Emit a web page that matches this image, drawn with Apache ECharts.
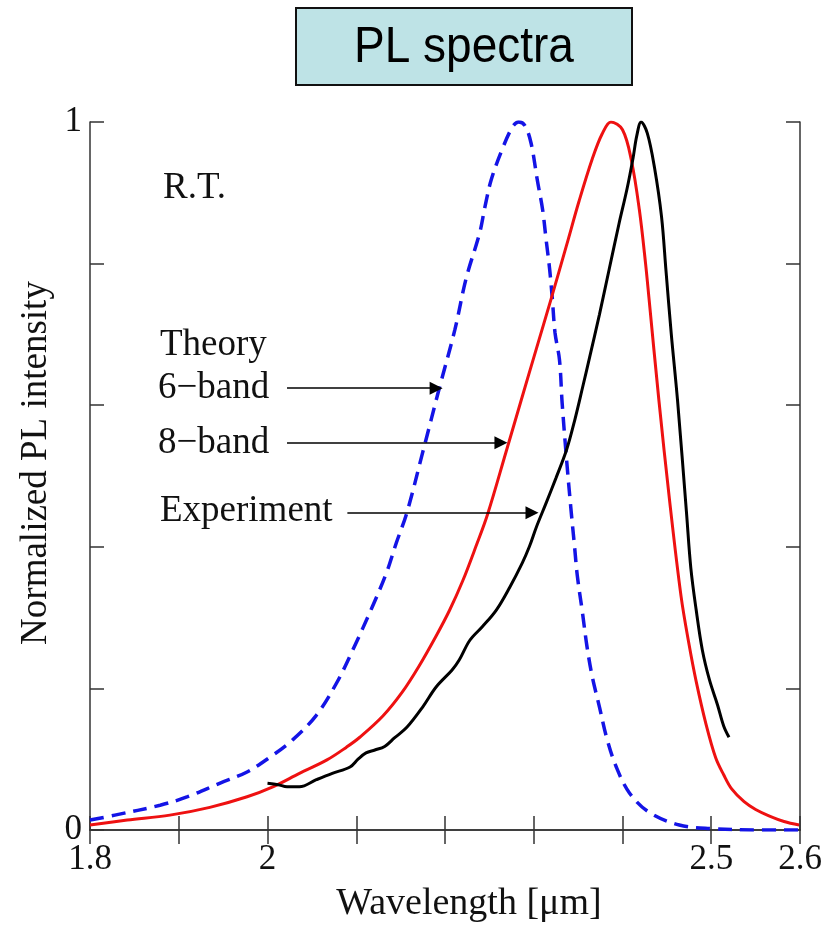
<!DOCTYPE html>
<html>
<head>
<meta charset="utf-8">
<script src="https://cdn.jsdelivr.net/npm/echarts@6/dist/echarts.min.js"></script>
<style>
html,body{margin:0;padding:0;background:#fff;}
#chart{width:837px;height:926px;}
</style>
</head>
<body>
<div id="chart"></div>
<script>
// ---- data ----
const sixBandWl = [1.800,1.828,1.879,1.910,1.946,1.977,2.003,2.028,2.055,2.078,2.096,2.118,2.134,2.145,2.157,2.175,2.194,2.211,2.224,2.239,2.245,2.252,2.264,2.276,2.283,2.290,2.297,2.304,2.310,2.314,2.318,2.321,2.324,2.329,2.332,2.337,2.342,2.346,2.349,2.355,2.360,2.366,2.374,2.382,2.393,2.408,2.430,2.464,2.501,2.550,2.600];
const sixBandI  = [0.014,0.021,0.035,0.047,0.066,0.082,0.103,0.127,0.162,0.208,0.254,0.315,0.363,0.405,0.448,0.534,0.626,0.706,0.780,0.843,0.880,0.918,0.960,0.993,1.000,0.995,0.970,0.918,0.876,0.833,0.791,0.749,0.702,0.664,0.603,0.523,0.452,0.400,0.360,0.306,0.259,0.216,0.174,0.131,0.089,0.052,0.025,0.007,0.002,0.000,0.000];

const eightBandWl = [1.800,1.842,1.890,1.935,1.977,2.006,2.036,2.067,2.089,2.104,2.130,2.152,2.171,2.190,2.205,2.220,2.235,2.248,2.269,2.287,2.303,2.320,2.337,2.351,2.366,2.377,2.387,2.400,2.410,2.419,2.426,2.430,2.441,2.453,2.466,2.475,2.483,2.494,2.505,2.514,2.523,2.537,2.550,2.565,2.582,2.599];
const eightBandI  = [0.007,0.014,0.021,0.032,0.047,0.061,0.080,0.099,0.117,0.131,0.161,0.195,0.232,0.274,0.310,0.352,0.401,0.446,0.535,0.612,0.680,0.752,0.826,0.888,0.948,0.983,1.000,0.989,0.946,0.876,0.800,0.749,0.607,0.466,0.330,0.262,0.210,0.150,0.102,0.078,0.058,0.040,0.029,0.020,0.012,0.007];

const expWl = [2.000,2.012,2.022,2.036,2.055,2.073,2.093,2.102,2.111,2.121,2.132,2.143,2.157,2.175,2.190,2.208,2.216,2.228,2.242,2.258,2.273,2.287,2.295,2.303,2.314,2.325,2.337,2.346,2.355,2.363,2.374,2.385,2.396,2.405,2.412,2.416,2.421,2.428,2.436,2.444,2.449,2.455,2.462,2.472,2.477,2.483,2.490,2.498,2.507,2.514,2.520];
const expI  = [0.066,0.064,0.061,0.061,0.071,0.080,0.089,0.100,0.109,0.113,0.118,0.130,0.145,0.174,0.202,0.226,0.240,0.268,0.287,0.311,0.343,0.377,0.400,0.428,0.462,0.497,0.537,0.578,0.625,0.668,0.728,0.792,0.856,0.905,0.950,0.980,1.000,0.984,0.936,0.866,0.790,0.700,0.607,0.450,0.370,0.311,0.254,0.212,0.177,0.147,0.131];

const xTickLabels = [1.8, 2, 2.5, 2.6];
const yTickLabels = [0, 1];

// annotation arrows (wavelength start/end, intensity level)
const arrowStarts = [2.022, 2.022, 2.090];
const arrowEnds   = [2.190, 2.263, 2.298];
const arrowLevels = [0.624, 0.547, 0.448];

const zip = (a, b) => a.map((v, i) => [v, b[i]]);
const serif = '"Liberation Serif", "DejaVu Serif", serif';

const chart = echarts.init(document.getElementById('chart'), null, {renderer: 'canvas'});

const axisLineStyle = {show: true, lineStyle: {color: '#333', width: 1.5}};
const tickStyle = {show: true, inside: true, length: 14, lineStyle: {color: '#333', width: 1.5}};

const isLabelled = (arr, v) => arr.some(t => Math.abs(t - v) < 1e-6);

const option = {
  animation: false,
  backgroundColor: '#fff',
  grid: {left: 90, right: 37, top: 122, bottom: 96, containLabel: false},
  xAxis: [
    {
      type: 'value', min: 1.8, max: 2.6, interval: 0.1, position: 'bottom',
      axisLine: axisLineStyle, axisTick: tickStyle, splitLine: {show: false},
      axisLabel: {
        show: true, margin: 12, fontFamily: serif, fontSize: 35, color: '#111',
        showMinLabel: true, showMaxLabel: true, hideOverlap: false,
        formatter: v => isLabelled(xTickLabels, v) ? String(+v.toFixed(1)) : ''
      }
    },
    {
      type: 'value', min: 1.8, max: 2.6, interval: 0.1, position: 'top',
      axisLine: axisLineStyle, axisTick: tickStyle, splitLine: {show: false},
      axisLabel: {show: false}
    }
  ],
  yAxis: [
    {
      type: 'value', min: 0, max: 1, interval: 0.2, position: 'left',
      axisLine: axisLineStyle, axisTick: tickStyle, splitLine: {show: false},
      axisLabel: {
        show: true, margin: 8, fontFamily: serif, fontSize: 35, color: '#111',
        showMinLabel: true, showMaxLabel: true,
        formatter: v => isLabelled(yTickLabels, v) ? String(Math.round(v)) : ''
      }
    },
    {
      type: 'value', min: 0, max: 1, interval: 0.2, position: 'right',
      axisLine: axisLineStyle, axisTick: tickStyle, splitLine: {show: false},
      axisLabel: {show: false}
    }
  ],
  series: [
    {
      name: '6-band', type: 'line', data: zip(sixBandWl, sixBandI),
      showSymbol: false, smooth: 0.35, clip: true,
      lineStyle: {color: '#1414e6', width: 3.5, type: [14, 8]}
    },
    {
      name: '8-band', type: 'line', data: zip(eightBandWl, eightBandI),
      showSymbol: false, smooth: 0.35, clip: true,
      lineStyle: {color: '#ee1111', width: 3}
    },
    {
      name: 'Experiment', type: 'line', data: zip(expWl, expI),
      showSymbol: false, smooth: 0.35, clip: true,
      lineStyle: {color: '#000', width: 3},
      markLine: {
        silent: true, animation: false,
        symbol: ['none', 'triangle'], symbolSize: 13,
        label: {show: false},
        lineStyle: {color: '#000', width: 1.5, type: 'solid'},
        emphasis: {disabled: true},
        data: arrowStarts.map((s, i) => [
          {coord: [s, arrowLevels[i]]},
          {coord: [arrowEnds[i], arrowLevels[i]]}
        ])
      }
    }
  ],
  graphic: [
    {type: 'rect', shape: {x: 296, y: 8, width: 336, height: 77},
     style: {fill: '#bee3e6', stroke: '#111', lineWidth: 2}},
    {type: 'text', x: 464, y: 48, scaleY: 1.1,
     style: {text: 'PL spectra', fontFamily: '"Liberation Sans", Arial, sans-serif', fontSize: 46,
             fill: '#000', align: 'center', verticalAlign: 'middle'}},
    {type: 'text', x: 163, y: 188,
     style: {text: 'R.T.', fontFamily: serif, fontSize: 37, fill: '#111', align: 'left', verticalAlign: 'middle'}},
    {type: 'text', x: 160, y: 345,
     style: {text: 'Theory', fontFamily: serif, fontSize: 37, fill: '#111', align: 'left', verticalAlign: 'middle'}},
    {type: 'text', x: 158, y: 388,
     style: {text: '6\u2212band', fontFamily: serif, fontSize: 37, fill: '#111', align: 'left', verticalAlign: 'middle'}},
    {type: 'text', x: 158, y: 443,
     style: {text: '8\u2212band', fontFamily: serif, fontSize: 37, fill: '#111', align: 'left', verticalAlign: 'middle'}},
    {type: 'text', x: 160, y: 511,
     style: {text: 'Experiment', fontFamily: serif, fontSize: 37, fill: '#111', align: 'left', verticalAlign: 'middle'}},
    {type: 'text', x: 469, y: 904,
     style: {text: 'Wavelength [\u03bcm]', fontFamily: serif, fontSize: 38, fill: '#111', align: 'center', verticalAlign: 'middle'}},
    {type: 'text', x: 36, y: 463, rotation: Math.PI / 2,
     style: {text: 'Normalized PL intensity', fontFamily: serif, fontSize: 37, fill: '#111', align: 'center', verticalAlign: 'middle'}}
  ]
};

chart.setOption(option);
</script>
</body>
</html>
